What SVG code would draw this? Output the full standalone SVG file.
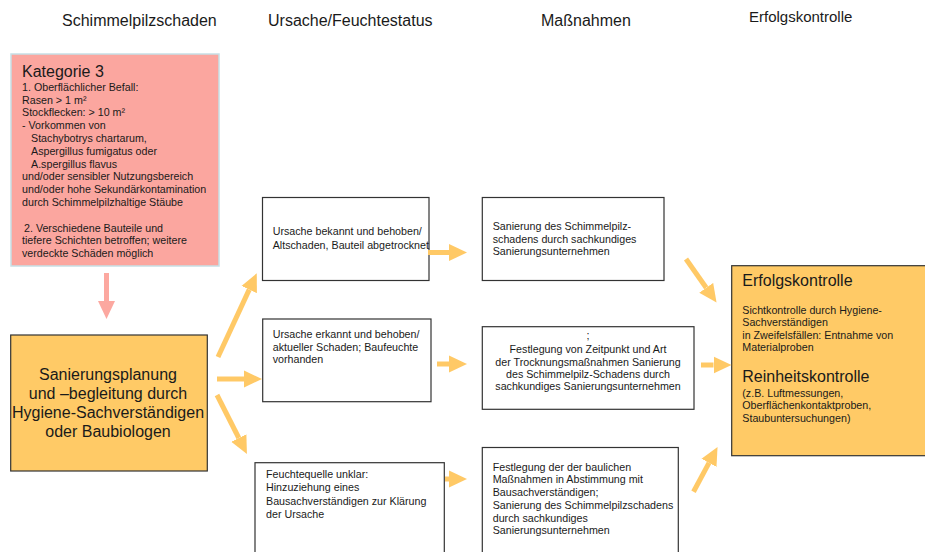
<svg xmlns="http://www.w3.org/2000/svg" width="925" height="552" viewBox="0 0 925 552">
<style>
text{font-family:"Liberation Sans",Arial,sans-serif;fill:#1a1a1a}
.h{font-size:16px}
.s{font-size:10.7px}
.big{font-size:16px}
.box{fill:#fff;stroke:#333;stroke-width:1.2}
.yel{fill:#FFCA66;stroke:#333;stroke-width:1.2}
.ya{stroke:#FFC966;stroke-width:5;fill:none}
.pa{stroke:#FCA8A0;stroke-width:5;fill:none}
</style>
<defs>
<marker id="hy" markerUnits="userSpaceOnUse" markerWidth="18" markerHeight="18" refX="0" refY="8.5" orient="auto" viewBox="0 0 18 17">
<path d="M0,0 L18,8.5 L0,17 z" fill="#FFC966"/>
</marker>
<marker id="hp" markerUnits="userSpaceOnUse" markerWidth="18" markerHeight="17" refX="0" refY="8.5" orient="auto" viewBox="0 0 18 17">
<path d="M0,0 L18,8.5 L0,17 z" fill="#FCA8A0"/>
</marker>
</defs>
<rect width="925" height="552" fill="#fff"/>

<g id="headers">
<text class="h" x="62" y="26">Schimmelpilzschaden</text>
<text class="h" x="268" y="26">Ursache/Feuchtestatus</text>
<text class="h" x="541" y="26">Maßnahmen</text>
<text class="h" x="749" y="22" style="font-size:15px">Erfolgskontrolle</text>
</g>

<g id="kategorie3">
<rect x="11" y="54" width="208" height="212" fill="#FBA69F" stroke="#C6E0E6" stroke-width="1.5"/>
<text class="big" x="22" y="77">Kategorie 3</text>
<text class="s" x="22" y="90.7">1. Oberflächlicher Befall:</text>
<text class="s" x="22" y="103.5">Rasen &gt; 1 m²</text>
<text class="s" x="22" y="116.3">Stockflecken: &gt; 10 m²</text>
<text class="s" x="22" y="129.1">- Vorkommen von</text>
<text class="s" x="31" y="141.9">Stachybotrys chartarum,</text>
<text class="s" x="31" y="154.7">Aspergillus fumigatus oder</text>
<text class="s" x="31" y="167.5">A.spergillus flavus</text>
<text class="s" x="22" y="180.3">und/oder sensibler Nutzungsbereich</text>
<text class="s" x="22" y="193.1">und/oder hohe Sekundärkontamination</text>
<text class="s" x="22" y="205.9">durch Schimmelpilzhaltige Stäube</text>
<text class="s" x="24" y="231.5">2. Verschiedene Bauteile und</text>
<text class="s" x="22" y="244.3">tiefere Schichten betroffen; weitere</text>
<text class="s" x="22" y="257.1">verdeckte Schäden möglich</text>
</g>

<g id="sanierungsplanung">
<rect class="yel" x="10.7" y="335" width="196.6" height="136"/>
<g text-anchor="middle">
<text class="big" x="108" y="380">Sanierungsplanung</text>
<text class="big" x="108" y="399">und –begleitung durch</text>
<text class="big" x="108" y="418">Hygiene-Sachverständigen</text>
<text class="big" x="108" y="437">oder Baubiologen</text>
</g>
</g>

<g id="ursache-bekannt">
<rect class="box" x="262.5" y="197.5" width="166.5" height="83"/>
<text class="s" x="272.7" y="235">Ursache bekannt und behoben/</text>
<text class="s" x="272.7" y="249">Altschaden, Bauteil abgetrocknet</text>
</g>

<g id="ursache-erkannt">
<rect class="box" x="262.7" y="319" width="168.3" height="82.7"/>
<text class="s" x="272.7" y="337.7">Ursache erkannt und behoben/</text>
<text class="s" x="272.7" y="350.5">aktueller Schaden; Baufeuchte</text>
<text class="s" x="272.7" y="363.3">vorhanden</text>
</g>

<g id="feuchtequelle-unklar">
<rect class="box" x="255" y="462.7" width="189.3" height="100"/>
<text class="s" x="266" y="478">Feuchtequelle unklar:</text>
<text class="s" x="266" y="491.4">Hinzuziehung eines</text>
<text class="s" x="266" y="504.8">Bausachverständigen zur Klärung</text>
<text class="s" x="266" y="518.2">der Ursache</text>
</g>

<g id="sanierung-schimmelpilz">
<rect class="box" x="482.3" y="197.5" width="181.7" height="83"/>
<text class="s" x="492.7" y="229.8">Sanierung des Schimmelpilz-</text>
<text class="s" x="492.7" y="242.5">schadens durch sachkundiges</text>
<text class="s" x="492.7" y="255.2">Sanierungsunternehmen</text>
</g>

<g id="festlegung-trocknung">
<rect class="box" x="482.3" y="326.7" width="211.7" height="82.6"/>
<g text-anchor="middle">
<text class="s" x="588" y="338.5">;</text>
<text class="s" x="588" y="353">Festlegung von Zeitpunkt und Art</text>
<text class="s" x="588" y="365.5">der Trocknungsmaßnahmen Sanierung</text>
<text class="s" x="588" y="377.8">des Schimmelpilz-Schadens durch</text>
<text class="s" x="588" y="390.2">sachkundiges Sanierungsunternehmen</text>
</g>
</g>

<g id="festlegung-baulich">
<rect class="box" x="482.3" y="447.5" width="196" height="115"/>
<text class="s" x="492.7" y="470.7">Festlegung der der baulichen</text>
<text class="s" x="492.7" y="483.4">Maßnahmen in Abstimmung mit</text>
<text class="s" x="492.7" y="496.1">Bausachverständigen;</text>
<text class="s" x="492.7" y="508.8">Sanierung des Schimmelpilzschadens</text>
<text class="s" x="492.7" y="521.5">durch sachkundiges</text>
<text class="s" x="492.7" y="534.2">Sanierungsunternehmen</text>
</g>

<g id="erfolgskontrolle">
<rect class="yel" x="731.7" y="265.7" width="200" height="190"/>
<text class="big" x="742.3" y="286">Erfolgskontrolle</text>
<text class="s" x="742.3" y="314">Sichtkontrolle durch Hygiene-</text>
<text class="s" x="742.3" y="326.3">Sachverständigen</text>
<text class="s" x="742.3" y="338.6">in Zweifelsfällen: Entnahme von</text>
<text class="s" x="742.3" y="350.9">Materialproben</text>
<text class="big" x="742.3" y="382.3">Reinheitskontrolle</text>
<text class="s" x="742.3" y="396.7">(z.B. Luftmessungen,</text>
<text class="s" x="742.3" y="409.2">Oberflächenkontaktproben,</text>
<text class="s" x="742.3" y="421.7">Staubuntersuchungen)</text>
</g>

<g id="connectors">
<line class="pa" x1="106.5" y1="273" x2="106.5" y2="301" marker-end="url(#hp)"/>
<line class="ya" x1="218" y1="357" x2="249.2" y2="289.6" marker-end="url(#hy)"/>
<line class="ya" x1="217" y1="379" x2="244" y2="379" marker-end="url(#hy)"/>
<line class="ya" x1="217" y1="395" x2="238.8" y2="438" marker-end="url(#hy)"/>
<line class="ya" x1="428" y1="252.5" x2="449" y2="252.5" marker-end="url(#hy)"/>
<line class="ya" x1="437" y1="364" x2="449" y2="364" marker-end="url(#hy)"/>
<line class="ya" x1="445" y1="479" x2="449" y2="479" marker-end="url(#hy)"/>
<line class="ya" x1="686" y1="259" x2="706.2" y2="287.8" marker-end="url(#hy)"/>
<line class="ya" x1="701" y1="365" x2="713.5" y2="365" marker-end="url(#hy)"/>
<line class="ya" x1="693.5" y1="491.7" x2="709" y2="462.9" marker-end="url(#hy)"/>
</g>
</svg>
